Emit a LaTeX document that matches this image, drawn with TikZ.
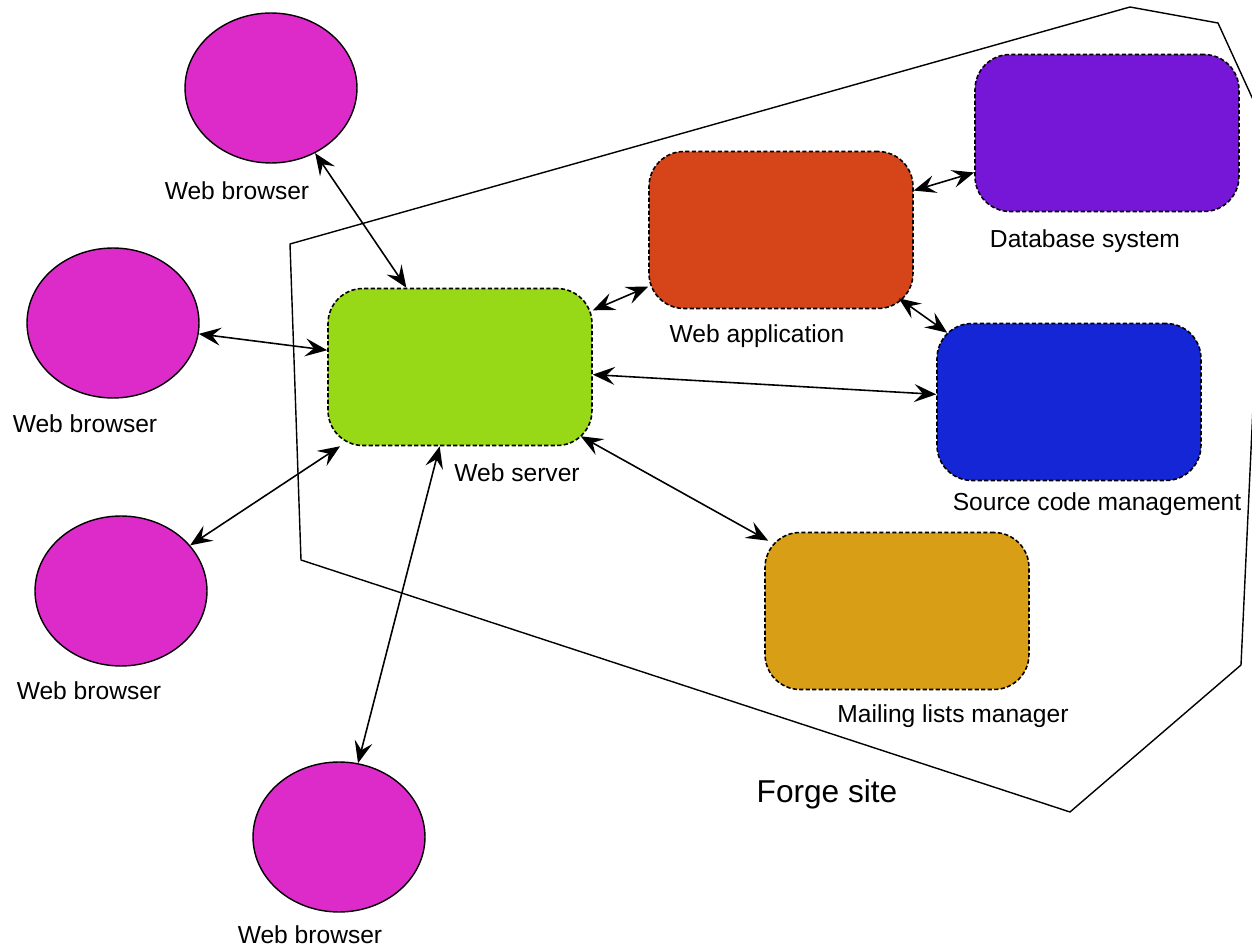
\documentclass[tikz,border=0pt]{standalone}
\usepackage{fontspec}
\setmainfont{Liberation Sans}
\usetikzlibrary{shapes.geometric,arrows.meta}
\definecolor{browsercol}{RGB}{221,43,201}
\definecolor{servercol}{RGB}{151,216,23}
\definecolor{appcol}{RGB}{214,69,25}
\definecolor{dbcol}{RGB}{118,22,214}
\definecolor{scmcol}{RGB}{20,38,214}
\definecolor{mailcol}{RGB}{216,158,22}
\tikzset{
  browser/.style={ellipse,draw=black,line width=0.8pt,fill=browsercol,
    minimum width=3.44cm,minimum height=3cm,inner sep=0pt},
  service/.style={rectangle,rounded corners=0.7cm,draw=black,line width=0.9pt,
    dash pattern=on 2.4pt off 1.3pt,minimum width=5.28cm,minimum height=3.14cm,inner sep=0pt},
  lbl/.style={font=\fontsize{14}{16}\selectfont,inner sep=0pt},
  tip/.style={Stealth[length=4.4mm,width=3.6mm,inset=1.7mm]},
  link/.style={line width=0.9pt,{Stealth[length=4.4mm,width=3.6mm,inset=1.7mm]}-{Stealth[length=4.4mm,width=3.6mm,inset=1.7mm]}}
}
\begin{document}
\begin{tikzpicture}[x=0.02cm,y=-0.02cm]
\clip (0,0) rectangle (1252,949);
\draw [line width=0.8pt,line join=round] (290,244) -- (1130,7) -- (1218,23) -- (1266,128)
  -- (1241,665) -- (1070,812) -- (301,560) -- cycle;
\node [lbl,font=\fontsize{18}{20}\selectfont] (forge) at (827,794) {Forge site};
\node [browser] (b1) at (271,88) {};
\node [browser] (b2) at (113,323) {};
\node [browser] (b3) at (121,591) {};
\node [browser] (b4) at (339,837) {};
\node [service,fill=servercol] (ws) at (460,367) {};
\node [service,fill=appcol] (wa) at (781,230) {};
\node [service,fill=dbcol] (db) at (1107,133) {};
\node [service,fill=scmcol] (scm) at (1069,402) {};
\node [service,fill=mailcol] (ml) at (897,611) {};
\node [lbl] (b1lbl) at (237,191) {Web browser};
\node [lbl] (b2lbl) at (85,424) {Web browser};
\node [lbl] (b3lbl) at (89,691) {Web browser};
\node [lbl] (b4lbl) at (310,935) {Web browser};
\node [lbl] (wslbl) at (517,473) {Web server};
\node [lbl] (walbl) at (757,336) {Web application};
\node [lbl] (dblbl) at (1085,241) {Database system};
\node [lbl] (scmlbl) at (1097,504) {Source code management};
\node [lbl] (mllbl) at (953,716) {Mailing lists manager};
\draw [link] (b1) -- (ws);
\draw [link] (b2) -- (ws);
\draw [link] (b3) -- (ws);
\draw [link] (b4) -- (ws);
\draw [link] (ws) -- (wa);
\draw [link] (wa) -- (db);
\draw [link] ([shift={(-15,-11)}]wa.south east) -- ([shift={(11,10)}]scm.north west);
\draw [link] (ws) -- (scm);
\draw [link] ([shift={(-12,-10)}]ws.south east) -- ([shift={(4,9)}]ml.north west);
\end{tikzpicture}
\end{document}
